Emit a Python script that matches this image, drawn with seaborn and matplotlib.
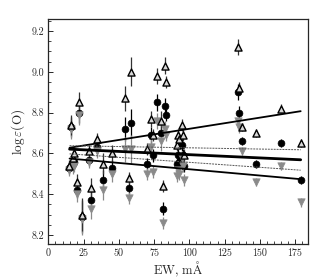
import matplotlib
matplotlib.use("Agg")
import matplotlib.pyplot as plt
from matplotlib.ticker import MultipleLocator
import seaborn as sns
import pandas as pd

# equivalent widths of the lines, mA
ew = [14.5, 16, 17.5, 18.5, 20.5, 22, 24, 29, 30, 34.5, 39, 45,
      54.5, 57.5, 58.5, 70, 73, 74.5, 77, 80, 81, 82.5, 83.5,
      91, 92, 93, 94.5, 95.5, 96, 134.5, 135.5, 137.5, 147.5, 165, 179]

# log eps(O) for three model sets
abund_tri = [8.54, 8.74, 8.58, 8.60, 8.46, 8.85, 8.30, 8.61, 8.43, 8.67, 8.55, 8.60,
             8.87, 8.48, 9.00, 8.62, 8.77, 8.69, 8.98, 8.76, 8.44, 9.03, 8.95,
             8.64, 8.69, 8.67, 8.74, 8.69, 8.59, 9.12, 8.92, 8.73, 8.70, 8.82, 8.65]
abund_circ = [8.53, 8.73, 8.55, 8.56, 8.42, 8.80, 8.29, 8.57, 8.37, 8.63, 8.47, 8.53,
              8.72, 8.43, 8.75, 8.55, 8.69, 8.59, 8.85, 8.70, 8.33, 8.83, 8.79,
              8.55, 8.59, 8.56, 8.64, 8.59, 8.54, 8.90, 8.80, 8.66, 8.55, 8.65, 8.47]
abund_gray = [8.52, 8.72, 8.53, 8.54, 8.40, 8.79, 8.28, 8.56, 8.33, 8.61, 8.42, 8.50,
              8.62, 8.38, 8.62, 8.50, 8.63, 8.51, 8.76, 8.66, 8.26, 8.72, 8.69,
              8.49, 8.52, 8.50, 8.58, 8.54, 8.47, 8.76, 8.73, 8.61, 8.46, 8.54, 8.36]
err = [0.03, 0.05, 0.03, 0.03, 0.04, 0.05, 0.08, 0.03, 0.05, 0.03, 0.05, 0.04,
       0.06, 0.03, 0.07, 0.03, 0.04, 0.03, 0.04, 0.05, 0.03, 0.04, 0.03,
       0.03, 0.03, 0.03, 0.03, 0.03, 0.03, 0.04, 0.03, 0.02, 0.02, 0.02, 0.02]

# linear fits (end points)
fit_x = [15, 179]
fit_tri = [8.628, 8.807]
fit_circ = [8.621, 8.569]
fit_gray = [8.575, 8.474]
fit_dot1 = [8.638, 8.618]
fit_dot2 = [8.598, 8.518]

sns.set_style("ticks")
plt.rcParams['font.family'] = ['cmr10', 'DejaVu Serif']
plt.rcParams['mathtext.fontset'] = 'cm'
plt.rcParams['axes.formatter.use_mathtext'] = True

df = pd.DataFrame({"ew": ew, "tri": abund_tri, "circ": abund_circ,
                   "gray": abund_gray, "err": err})

fig = plt.figure(figsize=(3.25, 2.8), dpi=100)
ax = fig.add_axes([0.149, 0.1275, 0.80, 0.8035])

# error bars
ax.errorbar(df["ew"], df["circ"], yerr=df["err"], fmt="none", ecolor="black", elinewidth=0.9, zorder=1)
ax.errorbar(df["ew"], df["gray"], yerr=df["err"], fmt="none", ecolor="#8a8a8a", elinewidth=0.9, zorder=1)
ax.errorbar(df["ew"], df["tri"], yerr=df["err"], fmt="none", ecolor="#333333", elinewidth=0.9, zorder=1)

sns.scatterplot(data=df, x="ew", y="circ", marker="o", color="black", s=24,
                edgecolor="black", linewidth=0.5, ax=ax, zorder=2)
sns.scatterplot(data=df, x="ew", y="gray", marker="v", color="#8a8a8a", s=28,
                edgecolor="#8a8a8a", linewidth=0.5, ax=ax, zorder=3)
sns.scatterplot(data=df, x="ew", y="tri", marker="^", color="#d8d8d8", s=26,
                edgecolor="black", linewidth=1.0, ax=ax, zorder=4)

# fit lines
sns.lineplot(x=fit_x, y=fit_tri, color="black", linewidth=1.3, ax=ax, zorder=5)
sns.lineplot(x=fit_x, y=fit_circ, color="black", linewidth=2.0, ax=ax, zorder=5)
sns.lineplot(x=fit_x, y=fit_gray, color="black", linewidth=1.3, ax=ax, zorder=5)
sns.lineplot(x=fit_x, y=fit_dot1, color="#555555", linewidth=0.7, linestyle=(0, (2, 1)), ax=ax, zorder=5)
sns.lineplot(x=fit_x, y=fit_dot2, color="#555555", linewidth=0.7, linestyle=(0, (2, 1)), ax=ax, zorder=5)

ax.set_xlim(0, 184.5)
ax.set_ylim(8.155, 9.257)
ax.xaxis.set_major_locator(MultipleLocator(25))
ax.xaxis.set_minor_locator(MultipleLocator(5))
ax.yaxis.set_major_locator(MultipleLocator(0.2))
ax.yaxis.set_minor_locator(MultipleLocator(0.05))
ax.yaxis.set_major_formatter(plt.FuncFormatter(lambda v, p: f"{v:.1f}"))
ax.xaxis.set_major_formatter(plt.FuncFormatter(lambda v, p: f"{v:.0f}"))
ax.tick_params(which="major", direction="in", length=3.5, width=0.7, labelsize=7.2, pad=3)
ax.tick_params(which="minor", direction="in", length=2, width=0.6)
for sp in ax.spines.values():
    sp.set_linewidth(0.9)

ax.set_xlabel(r"EW, m$\mathrm{\AA}$", fontsize=9, labelpad=1)
ax.set_ylabel(r"$\log\varepsilon(\mathrm{O})$", fontsize=9.5, labelpad=3)

plt.savefig("out.png", dpi=100)
